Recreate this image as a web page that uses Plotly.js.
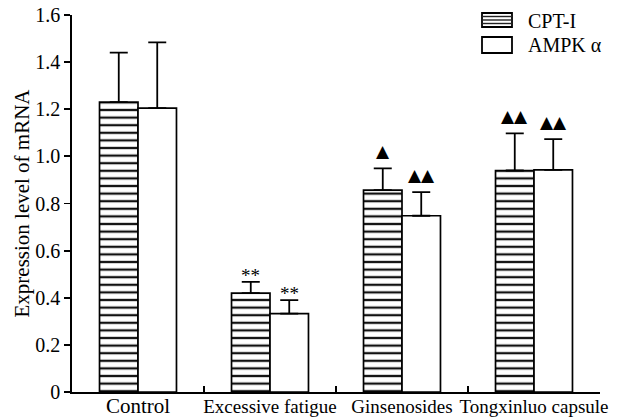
<!DOCTYPE html>
<html>
<head>
<meta charset="utf-8">
<script src="https://cdn.plot.ly/plotly-3.0.1.min.js"></script>
<style>html,body{margin:0;padding:0;background:#fff;}#chart{width:621px;height:419px;}</style>
</head>
<body>
<div id="chart"></div>
<script>
const categories = ['Control', 'Excessive fatigue', 'Ginsenosides', 'Tongxinluo capsule'];
const categoryLabels = ['<span style="font-size:21px">Control</span>', 'Excessive fatigue', 'Ginsenosides', 'Tongxinluo capsule'];
const cptValues = [1.23, 0.42, 0.857, 0.94];
const cptErrors = [0.21, 0.047, 0.092, 0.158];
const ampkValues = [1.205, 0.333, 0.748, 0.943];
const ampkErrors = [0.279, 0.057, 0.1, 0.13];
const cptMarks = ['', '**', '▲', '▲▲'];
const ampkMarks = ['', '**', '▲▲', '▲▲'];
const yTickVals = [0, 0.2, 0.4, 0.6, 0.8, 1.0, 1.2, 1.4, 1.6];
const yTickText = ['0', '0.2', '0.4', '0.6', '0.8', '1.0', '1.2', '1.4', '1.6'];
const seriesNames = ['CPT-I', 'AMPK α'];

const serif = 'Liberation Serif, Times New Roman, serif';

const traceCpt = {
  type: 'bar', name: seriesNames[0], x: categories, y: cptValues,
  marker: {color: '#ffffff', line: {color: '#000', width: 1.7},
           pattern: {shape: '-', fgcolor: '#111', bgcolor: '#ffffff', size: 7.6, solidity: 0.3}},
  error_y: {type: 'data', array: cptErrors, arrayminus: cptErrors.map(() => 0), symmetric: false,
            color: '#000', thickness: 1.8, width: 9},
  showlegend: false, hoverinfo: 'none'
};
const traceAmpk = {
  type: 'bar', name: seriesNames[1], x: categories, y: ampkValues,
  marker: {color: '#ffffff', line: {color: '#000', width: 1.7}},
  error_y: {type: 'data', array: ampkErrors, arrayminus: ampkErrors.map(() => 0), symmetric: false,
            color: '#000', thickness: 1.8, width: 9},
  showlegend: false, hoverinfo: 'none'
};

const annotations = [];
function addMarks(marks, vals, errs, shift) {
  marks.forEach((m, i) => {
    if (!m) return;
    const isStar = m.indexOf('*') >= 0;
    annotations.push({
      x: categories[i], y: vals[i] + errs[i], xref: 'x', yref: 'y',
      text: m, showarrow: false, xshift: shift, yanchor: 'bottom',
      yshift: isStar ? -6 : 5,
      font: {family: isStar ? serif : 'DejaVu Sans, sans-serif', size: isStar ? 19 : 17, color: '#000'}
    });
  });
}
addMarks(cptMarks, cptValues, cptErrors, -19.3);
addMarks(ampkMarks, ampkValues, ampkErrors, 19.3);

// manual legend (decoration) in paper coordinates computed from pixel positions
const L = 72, W = 528, T = 15, H = 377;
const px = v => (v - L) / W;
const py = v => (T + H - v) / H;
const shapes = [];
shapes.push({type: 'rect', xref: 'paper', yref: 'paper', x0: px(482), x1: px(512), y0: py(27), y1: py(13),
             line: {color: '#000', width: 1.8}, fillcolor: '#fff'});
[16.5, 20, 23.5].forEach(v => shapes.push({type: 'line', xref: 'paper', yref: 'paper', x0: px(482), x1: px(512),
             y0: py(v), y1: py(v), line: {color: '#222', width: 1.4}}));
shapes.push({type: 'rect', xref: 'paper', yref: 'paper', x0: px(482), x1: px(512), y0: py(53), y1: py(37),
             line: {color: '#000', width: 1.8}, fillcolor: '#fff'});
annotations.push({xref: 'paper', yref: 'paper', x: px(526), y: py(21), xanchor: 'left', yanchor: 'middle',
                  text: seriesNames[0], showarrow: false, font: {family: serif, size: 20, color: '#000'}});
annotations.push({xref: 'paper', yref: 'paper', x: px(526), y: py(45), xanchor: 'left', yanchor: 'middle',
                  text: seriesNames[1], showarrow: false, font: {family: serif, size: 20, color: '#000'}});

const layout = {
  width: 621, height: 419,
  margin: {l: 72, r: 21, t: 15, b: 27, pad: 0},
  paper_bgcolor: '#fff', plot_bgcolor: '#fff',
  barmode: 'group', bargap: 0.417, bargroupgap: 0,
  font: {family: serif, color: '#000'},
  xaxis: {
    type: 'category', showgrid: false, zeroline: false,
    showline: true, linecolor: '#000', linewidth: 1.8,
    ticks: 'inside', tickson: 'boundaries', ticklen: 6, tickwidth: 1.8, tickcolor: '#000',
    tickvals: categories, ticktext: categoryLabels, tickangle: 0, ticklabelstandoff: -4,
    tickfont: {family: serif, size: 19, color: '#000'}, automargin: false
  },
  yaxis: {
    range: [0, 1.6], showgrid: false, zeroline: false,
    showline: true, linecolor: '#000', linewidth: 1.8,
    ticks: 'outside', ticklen: 6, tickwidth: 1.8, tickcolor: '#000',
    tickvals: yTickVals, ticktext: yTickText,
    tickfont: {family: serif, size: 20, color: '#000'},
    title: {text: 'Expression level of mRNA', font: {family: serif, size: 21, color: '#000'}, standoff: 0},
    automargin: false
  },
  shapes: shapes,
  annotations: annotations
};

Plotly.newPlot('chart', [traceCpt, traceAmpk], layout, {staticPlot: true, displayModeBar: false});
</script>
</body>
</html>
